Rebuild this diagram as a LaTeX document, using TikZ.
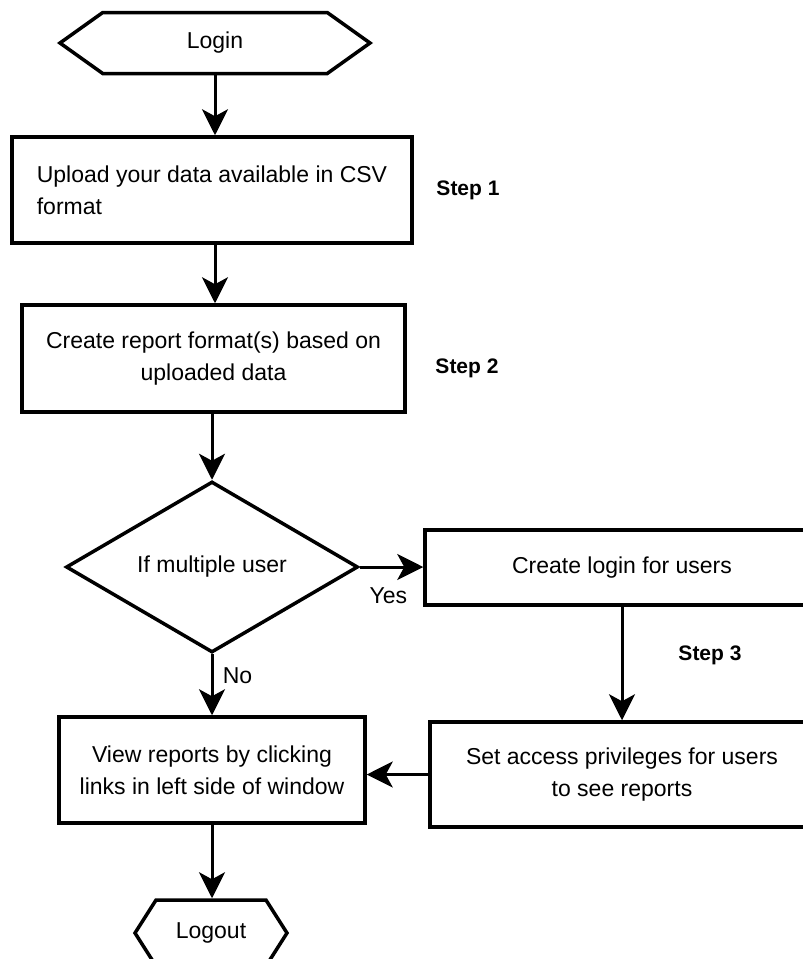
\documentclass[tikz,border=0pt]{standalone}
\usepackage{fontspec}
\setmainfont{Liberation Sans}
\usetikzlibrary{arrows.meta,shapes.geometric,shapes.symbols}

\tikzset{
	box/.style={draw, line width=3.5pt, rectangle, inner sep=0pt},
	terminal/.style={draw, line width=3.5pt, signal, signal to=west and east, inner sep=0pt},
	decision/.style={draw, line width=3.5pt, diamond, inner sep=0pt},
	flow/.style={line width=3pt, -{Stealth[length=26pt, width=26pt, inset=7pt]}},
	steplabel/.style={font=\fontsize{21pt}{25pt}\selectfont\bfseries}
}

\begin{document}
\begin{tikzpicture}[x=1pt, y=-1pt, font=\fontsize{23pt}{32pt}\selectfont]
	%%%%% START %%%%%
	\useasboundingbox (0, 0) rectangle (803, 959);
	\clip (0, 0) rectangle (803, 959);
	
	\node[terminal, minimum width=310pt, minimum height=61pt, signal pointer angle=71] (login) at (215, 43) {Login};
	
	\node[box, minimum width=400pt, minimum height=106pt, align=left] (upload) at (212, 190) {Upload your data available in CSV\\format};
	\node[steplabel] (step1) at (468, 190) {Step 1};
	
	\node[box, minimum width=383pt, minimum height=107pt, align=center] (report) at (213.5, 358.5) {Create report format(s) based on\\uploaded data};
	\node[steplabel] (step2) at (467, 368) {Step 2};
	
	\node[decision, minimum width=292pt, minimum height=167pt] (multi) at (212, 567) {If multiple user};
	
	\node[box, minimum width=394pt, minimum height=75pt] (logins) at (622, 567.5) {Create login for users};
	\node[steplabel] (step3) at (710, 655) {Step 3};
	
	\node[box, minimum width=384pt, minimum height=105pt, align=center] (access) at (622, 774.5) {Set access privileges for users\\to see reports};
	
	\node[box, minimum width=306pt, minimum height=106pt, align=center] (view) at (212, 770) {View reports by clicking\\links in left side of window};
	
	\node[terminal, minimum width=152pt, minimum height=66pt, signal pointer angle=115] (logout) at (211, 933) {Logout};
	
	\draw[flow] (login.south) -- (login.south |- upload.north);
	\draw[flow] (login.south |- upload.south) -- (login.south |- report.north);
	\draw[flow] (multi.north |- report.south) -- (multi.north);
	\draw[flow] (multi.east) -- (multi.east -| logins.west) node[pos=0.45, below=16pt] (yes) {Yes};
	\draw[flow] (logins.south) -- (access.north);
	\draw[flow] (access.west) -- (view.east |- access.west);
	\draw[flow] (multi.south) -- (view.north) node[pos=0.35, right=6pt] (no) {No};
	\draw[flow] (view.south) -- (view.south |- logout.north);
	
	%%%%% END %%%%%
\end{tikzpicture}
\end{document}
